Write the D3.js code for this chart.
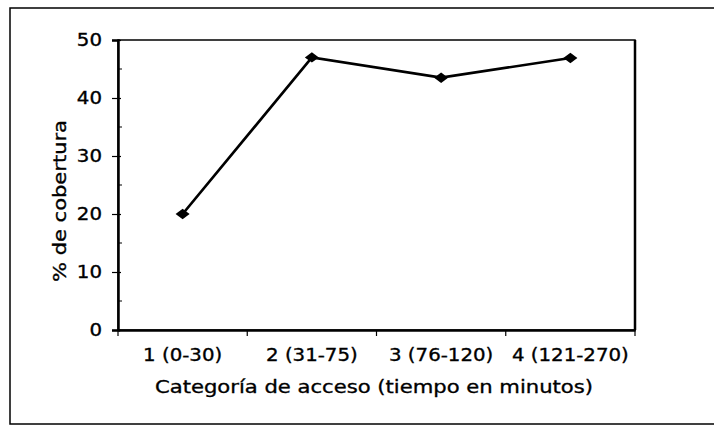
<!DOCTYPE html>
<html>
<head>
<meta charset="utf-8">
<script src="https://cdn.jsdelivr.net/npm/d3@7"></script>
<style>
  body { margin: 0; background: #fff; }
  svg text { font-family: "DejaVu Sans", "Liberation Sans", Arial, sans-serif; fill: #000; stroke: #000; stroke-width: 0.35px; }
  .ejes text { font-size: 17.5px; }
</style>
</head>
<body>
<div id="graf"></div>
<script>
// datos del grafico
categorias = ['1 (0-30)', '2 (31-75)', '3 (76-120)', '4 (121-270)']
cobertura  = [20.0, 47.0, 43.5, 46.9]
ticksY     = [0, 10, 20, 30, 40, 50]
ticksMenor = [5, 15, 25, 35, 45]

ancho_total = 714
alto_total  = 426
margins = { top: 40, left: 118, right: 79, bottom: 96 }
ancho = ancho_total - margins.left - margins.right
alto  = alto_total - margins.top - margins.bottom
estirar = 1.13   // el original sale algo ensanchado

svg = d3.select('#graf').append('svg')
        .attr('width', ancho_total)
        .attr('height', alto_total)

// marco exterior
svg.append('rect')
   .attr('x', 10).attr('y', 8)
   .attr('width', 720).attr('height', 416)
   .attr('fill', 'none')
   .attr('stroke', '#000')
   .attr('stroke-width', 1.5)

g = svg.append('g')
       .attr('transform', `translate(${margins.left}, ${margins.top})`)

// escaladores
x = d3.scaleBand().domain(categorias).range([0, ancho])
y = d3.scaleLinear().domain([0, 50]).range([alto, 0])

// area del grafico
g.append('rect')
 .attr('width', ancho).attr('height', alto)
 .attr('fill', 'none')
 .attr('stroke', '#000')
 .attr('stroke-width', 1.5)
g.append('line')
 .attr('x1', ancho).attr('x2', ancho)
 .attr('y1', 0).attr('y2', alto)
 .attr('stroke', '#000')
 .attr('stroke-width', 2.5)

// eje Y
yAxis = g.append('g').attr('class', 'ejes')
         .call(d3.axisLeft(y).tickValues(ticksY).tickSize(6).tickPadding(10))
yAxis.select('.domain').attr('stroke-width', 2.5)
yAxis.selectAll('.tick line').attr('x2', -6).attr('x1', 3).attr('stroke-width', 1.2)
yAxis.selectAll('.tick text')
     .attr('x', -16 / estirar)
     .attr('transform', `scale(${estirar}, 1)`)

g.selectAll('.menor')
 .data(ticksMenor)
 .join('line')
 .attr('x1', 0).attr('x2', 4)
 .attr('y1', d => y(d)).attr('y2', d => y(d))
 .attr('stroke', '#000')

// eje X
xAxis = g.append('g').attr('class', 'ejes')
         .attr('transform', `translate(0, ${alto})`)
         .call(d3.axisBottom(x).tickSize(0).tickPadding(19))
xAxis.select('.domain').attr('stroke-width', 2.5)
xAxis.selectAll('.tick text').attr('transform', `scale(${estirar}, 1)`)

// separadores de categorias
g.selectAll('.sep')
 .data(d3.range(categorias.length + 1))
 .join('line')
 .attr('x1', d => d * x.step()).attr('x2', d => d * x.step())
 .attr('y1', alto).attr('y2', alto + 6)
 .attr('stroke', '#000')
 .attr('stroke-width', 1.2)

// linea
lineaGen = d3.line()
             .x((d, i) => x(categorias[i]) + x.bandwidth() / 2)
             .y(d => y(d))
g.append('path')
 .attr('d', lineaGen(cobertura))
 .attr('fill', 'none')
 .attr('stroke', '#000')
 .attr('stroke-width', 2.7)

// marcadores en rombo
g.selectAll('.punto')
 .data(cobertura)
 .join('path')
 .attr('d', d3.symbol(d3.symbolDiamond2, 95))
 .attr('transform', (d, i) => `translate(${x(categorias[i]) + x.bandwidth() / 2}, ${y(d)}) scale(1.15, 0.85)`)
 .attr('fill', '#000')

// titulos de ejes
svg.append('text')
   .attr('x', 374)
   .attr('y', 393)
   .attr('text-anchor', 'middle')
   .attr('textLength', 438)
   .attr('lengthAdjust', 'spacingAndGlyphs')
   .style('font-size', '18.5px')
   .text('Categoría de acceso (tiempo en minutos)')

svg.append('text')
   .attr('transform', 'translate(66, 201) rotate(-90)')
   .attr('text-anchor', 'middle')
   .attr('textLength', 162)
   .attr('lengthAdjust', 'spacingAndGlyphs')
   .style('font-size', '18.5px')
   .text('% de cobertura')
</script>
</body>
</html>
